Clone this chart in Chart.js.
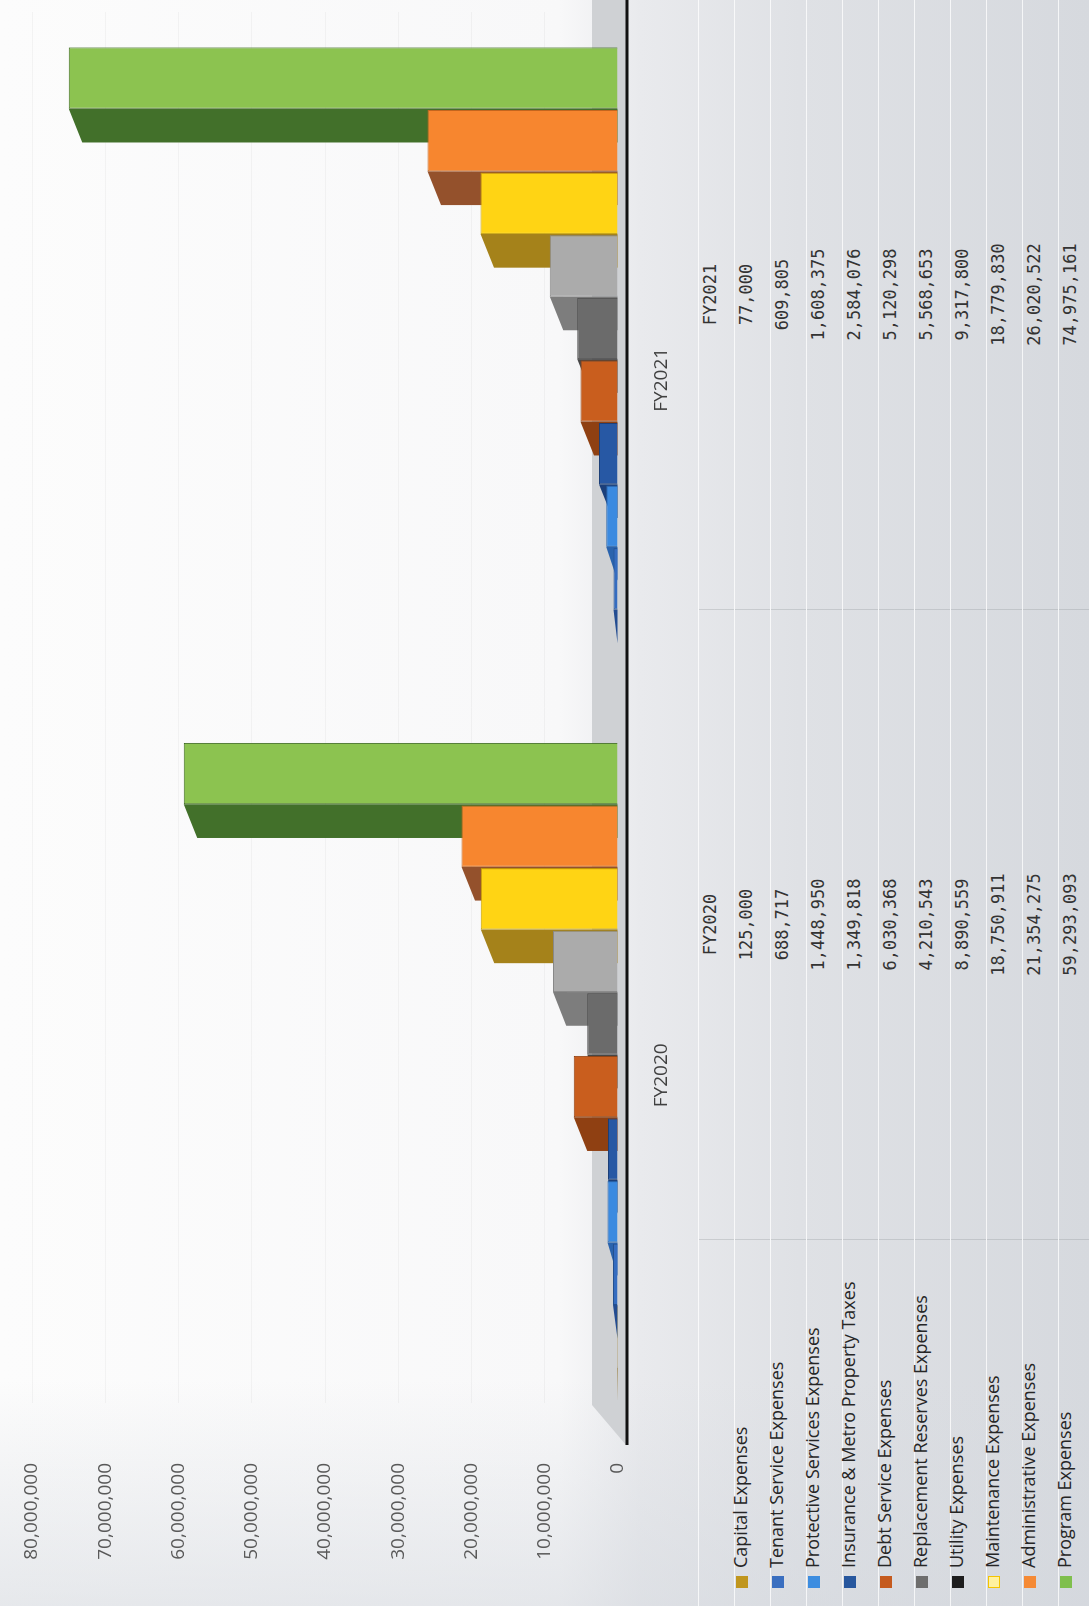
<!DOCTYPE html>
<html>
<head>
<meta charset="utf-8">
<script src="https://cdn.jsdelivr.net/npm/chart.js@4.4.0/dist/chart.umd.min.js"></script>
<style>
html, body { margin: 0; padding: 0; }
body {
    width: 1089px;
    height: 1606px;
    overflow: hidden;
    position: relative;
    background:
        linear-gradient(to bottom, rgba(255,255,255,0) 1380px, rgba(212,216,222,0.55) 1606px),
        linear-gradient(to right, #fcfcfc 0px, #f8f8f9 560px, #e9eaed 640px, #dfe1e5 800px, #d6d9de 1089px);
}
/* the scanned page is turned a quarter turn, so build it upright and rotate */
#page {
    position: absolute;
    left: 0;
    top: 0;
    width: 1606px;
    height: 1089px;
    overflow: hidden;
    transform-origin: 0 0;
    transform: translate(0, 1606px) rotate(-90deg);
}
#chartBox { position: absolute; left: 0; top: 0; width: 1606px; height: 680px; }
#dataTable { position: absolute; left: 0; top: 698px; width: 1626px; }
.row {
    display: flex;
    height: 36px;
    box-sizing: border-box;
    border-top: 1px solid rgba(255,255,255,0.75);
}
.label {
    width: 366px;
    box-sizing: border-box;
    padding-left: 18px;
    font-family: "Open Sans", sans-serif;
    font-size: 18px;
    line-height: 22px;
    color: #262626;
    position: relative;
    top: -6px;
    white-space: nowrap;
}
.swatch {
    display: inline-block;
    width: 12px;
    height: 12px;
    margin-right: 8px;
    vertical-align: -1px;
    box-sizing: border-box;
}
.value {
    width: 630px;
    box-sizing: border-box;
    text-align: center;
    font-family: "DejaVu Sans Mono", monospace;
    font-size: 17px;
    line-height: 22px;
    color: #333;
    border-left: 1px solid rgba(140,145,150,0.3);
}
</style>
</head>
<body>
<div id="page">
    <div id="chartBox"><canvas id="myChart" width="1606" height="680"></canvas></div>
    <div id="dataTable"></div>
</div>
<script>
// Data
const categories = ['FY2020', 'FY2021'];
const seriesNames = [
    'Capital Expenses',
    'Tenant Service Expenses',
    'Protective Services Expenses',
    'Insurance & Metro Property Taxes',
    'Debt Service Expenses',
    'Replacement Reserves Expenses',
    'Utility Expenses',
    'Maintenance Expenses',
    'Administrative Expenses',
    'Program Expenses'
];
const fy2020 = [125000, 688717, 1448950, 1349818, 6030368, 4210543, 8890559, 18750911, 21354275, 59293093];
const fy2021 = [77000, 609805, 1608375, 2584076, 5120298, 5568653, 9317800, 18779830, 26020522, 74975161];
const valueTicks = [0, 10000000, 20000000, 30000000, 40000000, 50000000, 60000000, 70000000, 80000000];

// Colours
const barColors = ['#b98c1c', '#356cc0', '#3b8ae0', '#2758a4', '#c95e1e', '#6b6b6b', '#ababab', '#ffd414', '#f7862f', '#8cc350'];
const sideColors = ['#8a6612', '#234c91', '#2a63ad', '#1b3f7a', '#8f4012', '#474747', '#7d7d7d', '#a5821a', '#94512c', '#42702a'];
const edgeColors = ['#7d5e10', '#24508f', '#2a66ad', '#1c3f78', '#924212', '#4a4a4a', '#888888', '#c9a200', '#c4651f', '#3f6b22'];
const swatchColors = ['#c0961e', '#3a6fc0', '#3d8de0', '#27579e', '#c55a1e', '#6e6e6e', '#1e1e1e', '#fff1a0', '#f58a35', '#7fbf4d'];
const swatchBorders = ['#c0961e', '#3a6fc0', '#3d8de0', '#27579e', '#c55a1e', '#6e6e6e', '#1e1e1e', '#f5c400', '#f58a35', '#7fbf4d'];

// Fake 3D: darker side face for each bar, floor strip and baseline
const depthPlugin = {
    id: 'depth',
    beforeDatasetsDraw(chart) {
        const ctx = chart.ctx;
        const area = chart.chartArea;
        const base = chart.scales.y.getPixelForValue(0);
        const start = area.left - 42;
        const end = chart.width;
        ctx.save();
        ctx.fillStyle = '#cfd1d4';
        ctx.beginPath();
        ctx.moveTo(start, base + 8);
        ctx.lineTo(start + 40, base - 26);
        ctx.lineTo(end, base - 26);
        ctx.lineTo(end, base + 8);
        ctx.closePath();
        ctx.fill();
        ctx.strokeStyle = '#111';
        ctx.lineWidth = 3;
        ctx.beginPath();
        ctx.moveTo(start, base + 9);
        ctx.lineTo(end, base + 9);
        ctx.stroke();
        ctx.restore();
    },
    beforeDatasetDraw(chart, args) {
        const ds = chart.data.datasets[args.index];
        const ctx = chart.ctx;
        ctx.save();
        ctx.fillStyle = ds.sideColor;
        args.meta.data.forEach(function(bar) {
            const p = bar.getProps(['x', 'y', 'base', 'width'], true);
            const left = p.x - p.width / 2;
            const d = p.width * 0.55;
            const top = Math.min(p.y + d * 0.4, p.base);
            ctx.beginPath();
            ctx.moveTo(left, p.y);
            ctx.lineTo(left - d, top);
            ctx.lineTo(left - d, p.base);
            ctx.lineTo(left, p.base);
            ctx.closePath();
            ctx.fill();
        });
        ctx.restore();
    }
};

document.addEventListener('DOMContentLoaded', function() {
    const ctx = document.getElementById('myChart').getContext('2d');

    const datasets = seriesNames.map(function(name, i) {
        return {
            label: name,
            data: [fy2020[i], fy2021[i]],
            backgroundColor: barColors[i],
            borderColor: edgeColors[i],
            borderWidth: 1,
            sideColor: sideColors[i]
        };
    });

    new Chart(ctx, {
        type: 'bar',
        data: { labels: categories, datasets: datasets },
        plugins: [depthPlugin],
        options: {
            responsive: false,
            animation: false,
            devicePixelRatio: 1,
            layout: { padding: { top: 32, left: 0, right: 12, bottom: 0 } },
            datasets: { bar: { categoryPercentage: 0.9, barPercentage: 0.98 } },
            plugins: { legend: { display: false }, tooltip: { enabled: false } },
            scales: {
                x: {
                    grid: { display: false },
                    border: { display: false },
                    ticks: {
                        font: { family: 'Open Sans', size: 19 },
                        color: '#404040',
                        padding: 24,
                        labelOffset: -20
                    },
                    afterFit: function(scale) { scale.height = 62; }
                },
                y: {
                    min: valueTicks[0],
                    max: valueTicks[valueTicks.length - 1],
                    afterBuildTicks: function(scale) {
                        scale.ticks = valueTicks.map(function(v) { return { value: v }; });
                    },
                    grid: { color: 'rgba(0,0,0,0.035)', drawTicks: false },
                    border: { display: false },
                    ticks: {
                        font: { family: 'Open Sans', size: 19 },
                        color: '#595959',
                        padding: 60,
                        callback: function(v) { return Number(v).toLocaleString('en-US'); }
                    },
                    afterFit: function(scale) {
                        // big label gap, but keep it from eating the plot height
                        scale.width = 203;
                        scale.paddingTop = 0;
                        scale.paddingBottom = 0;
                    }
                }
            }
        }
    });

    // Data table with legend keys
    const table = document.getElementById('dataTable');
    function addRow(labelNode, values) {
        const row = document.createElement('div');
        row.className = 'row';
        const label = document.createElement('div');
        label.className = 'label';
        if (labelNode) label.appendChild(labelNode);
        row.appendChild(label);
        values.forEach(function(v) {
            const cell = document.createElement('div');
            cell.className = 'value';
            cell.textContent = v;
            row.appendChild(cell);
        });
        table.appendChild(row);
    }
    addRow(null, categories);
    seriesNames.forEach(function(name, i) {
        const frag = document.createDocumentFragment();
        const sw = document.createElement('span');
        sw.className = 'swatch';
        sw.style.background = swatchColors[i];
        sw.style.border = '1px solid ' + swatchBorders[i];
        frag.appendChild(sw);
        frag.appendChild(document.createTextNode(name));
        addRow(frag, [fy2020[i].toLocaleString('en-US'), fy2021[i].toLocaleString('en-US')]);
    });
});
</script>
</body>
</html>
